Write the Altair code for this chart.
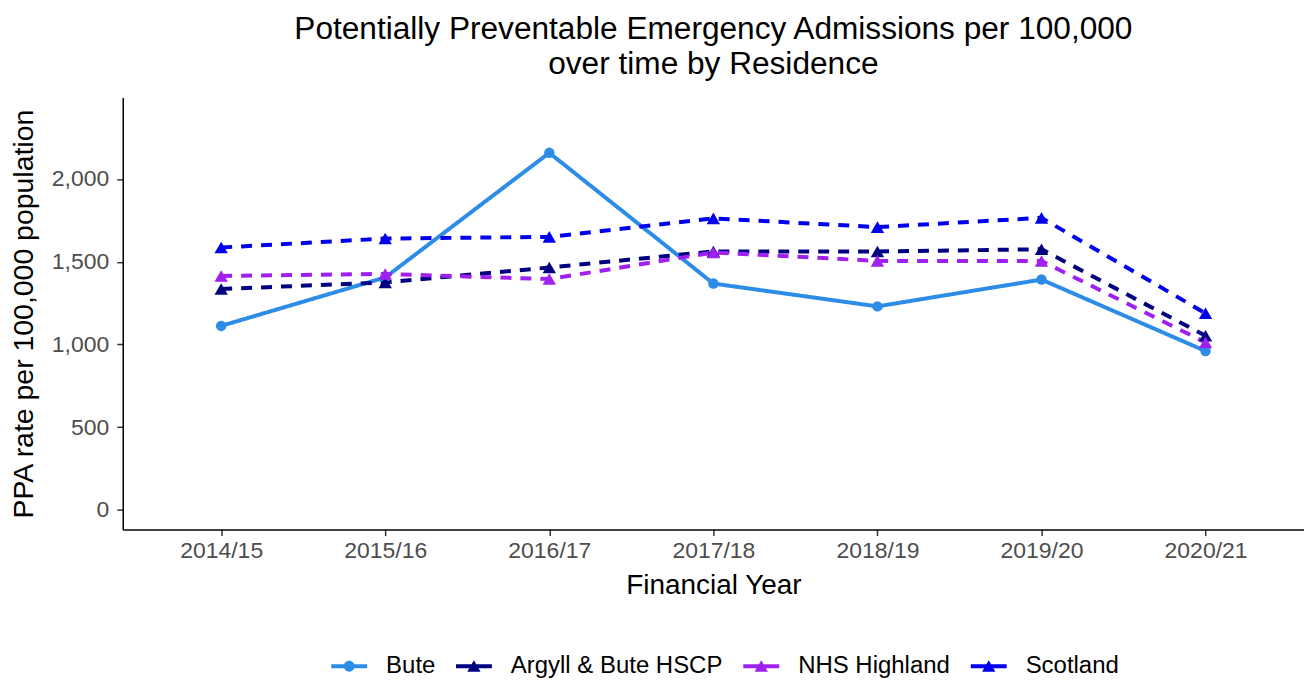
import altair as alt
import pandas as pd

years = ["2014/15", "2015/16", "2016/17", "2017/18", "2018/19", "2019/20", "2020/21"]
series = ["Bute", "Argyll & Bute HSCP", "NHS Highland", "Scotland"]
bute = [1112, 1405, 2158, 1368, 1230, 1392, 960]
argyll = [1335, 1375, 1465, 1562, 1562, 1575, 1052]
highland = [1414, 1426, 1395, 1556, 1505, 1504, 1012]
scotland = [1586, 1640, 1650, 1762, 1709, 1765, 1188]
colors = ["#2D8CE6", "#000080", "#A020F0", "#0000EE"]
dashes = [[1, 0], [11, 9], [11, 9], [11, 9]]
y_ticks = [0, 500, 1000, 1500, 2000]

# legend keys: short line + marker (unit path, scaled by symbol size)
circle_key = "M-1,-0.11H1V0.11H-1Z M-0.3,0A0.3,0.3 0 1,1 0.3,0A0.3,0.3 0 1,1 -0.3,0Z"
tri_key = "M-1,-0.11H1V0.11H-1Z M0,-0.34L0.37,0.3L-0.37,0.3Z"
key_paths = [circle_key, tri_key, tri_key, tri_key]

rows = []
for s, vals in zip(series, [bute, argyll, highland, scotland]):
    for yr, v in zip(years, vals):
        rows.append({"year": yr, "series": s, "rate": v})
df = pd.DataFrame(rows)

FONT = "Liberation Sans"

color_scale = alt.Scale(domain=series, range=colors)

legend_def = dict(
    title=None,
    orient="none",
    direction="horizontal",
    legendX=209,
    legendY=552,
    symbolSize=1296,
    symbolStrokeWidth=0,
    labelFont=FONT,
    labelFontSize=24,
    labelColor="black",
    labelOffset=19,
    labelLimit=0,
    columnPadding=20,
    padding=0,
)

x_enc = alt.X(
    "year:O",
    sort=years,
    scale=alt.Scale(type="point", padding=0.6),
    axis=alt.Axis(
        title="Financial Year",
        labelAngle=0,
        labelFont=FONT,
        labelFontSize=23,
        labelColor="#4D4D4D",
        labelPadding=4,
        titleFont=FONT,
        titleFontSize=28,
        titleFontWeight="normal",
        titleColor="black",
        titlePadding=9,
        tickColor="#333333",
        tickSize=6,
        tickWidth=1.5,
        domainColor="black",
        domainWidth=1.5,
        grid=False,
    ),
)
y_enc = alt.Y(
    "rate:Q",
    scale=alt.Scale(domain=[-119, 2492], nice=False, zero=False),
    axis=alt.Axis(
        title="PPA rate per 100,000 population",
        values=y_ticks,
        format=",d",
        labelFont=FONT,
        labelFontSize=23,
        labelColor="#4D4D4D",
        labelPadding=8,
        titleFont=FONT,
        titleFontSize=28.5,
        titleFontWeight="normal",
        titleColor="black",
        titlePadding=13,
        tickColor="#333333",
        tickSize=6,
        tickWidth=1.5,
        domainColor="black",
        domainWidth=1.5,
        grid=False,
    ),
)
color_enc = alt.Color("series:N", scale=color_scale, legend=alt.Legend(**legend_def))

base = alt.Chart(df).encode(x=x_enc, y=y_enc, color=color_enc)

lines = base.mark_line(strokeWidth=4).encode(
    strokeDash=alt.StrokeDash(
        "series:N", scale=alt.Scale(domain=series, range=dashes), legend=None
    )
)
pts_circle = base.transform_filter(alt.datum.series == "Bute").mark_point(
    shape="circle", filled=True, size=110, opacity=1
)
pts_tri = base.transform_filter(alt.datum.series != "Bute").mark_point(
    shape="triangle-up", filled=True, size=180, opacity=1
)

legend_layer = (
    base.transform_filter(alt.datum.series == "__none__")
    .mark_point(filled=True, opacity=1, size=1296, strokeWidth=0)
    .encode(
        shape=alt.Shape(
            "series:N",
            scale=alt.Scale(domain=series, range=key_paths),
            legend=alt.Legend(**legend_def),
        ),
    )
)

chart = (
    alt.layer(lines, pts_circle, pts_tri, legend_layer)
    .properties(
        width=1184,
        height=433,
        autosize=alt.AutoSizeParams(type="none"),
        padding={"left": 115, "top": 89, "right": 0, "bottom": 152},
        title=alt.TitleParams(
            text=[
                "Potentially Preventable Emergency Admissions per 100,000",
                "over time by Residence",
            ],
            font=FONT,
            fontSize=31.7,
            fontWeight="normal",
            color="black",
            anchor="middle",
            lineHeight=35,
            baseline="bottom",
            offset=-15,
        ),
        background="white",
    )
    .configure_view(stroke=None)
)

chart.save("out.html", embed_options={"renderer": "svg", "actions": False})
